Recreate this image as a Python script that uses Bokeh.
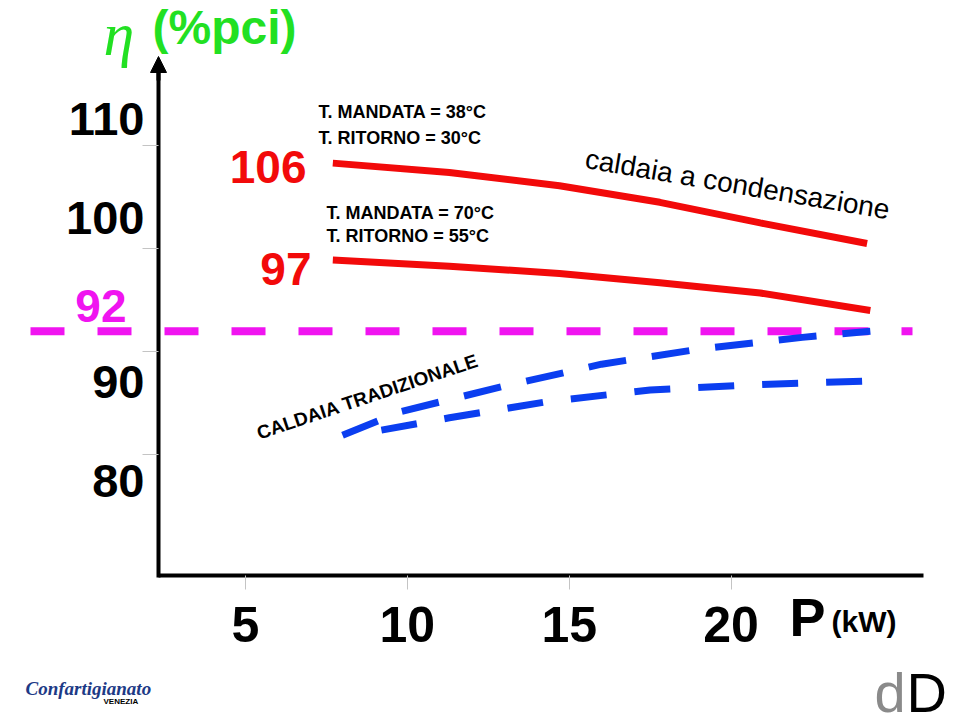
from bokeh.plotting import figure
from bokeh.models import Range1d, LinearAxis, FixedTicker, Arrow, NormalHead, ColumnDataSource
from bokeh.embed import file_html
from bokeh.resources import INLINE
from bokeh.core.properties import value

# ---------------- data ----------------
x_ticks = [5, 10, 15, 20]
y_ticks = [110, 100, 90, 80]
y_tick_labels = ["110", "100", "90", "80"]
eta_threshold = 92

P_cond_38 = [7.7, 11.3, 14.7, 17.8, 20.9, 24.2]
eta_cond_38 = [108.3, 107.4, 106.1, 104.5, 102.5, 100.5]
P_cond_70 = [7.7, 11.3, 14.7, 17.8, 20.9, 24.3]
eta_cond_70 = [98.9, 98.3, 97.6, 96.7, 95.7, 94.0]
P_trad_a = [8.0, 9.8, 12.9, 16.0, 19.1, 22.2, 24.3]
eta_trad_a = [81.9, 84.2, 86.6, 88.8, 90.3, 91.4, 92.0]
P_trad_b = [9.2, 11.3, 14.4, 17.5, 20.6, 24.5]
eta_trad_b = [82.4, 83.6, 85.2, 86.3, 86.8, 87.2]

# ---------------- layout helpers (picture pixels -> data) ----------------
W, H = 960, 726
def X(px):
    return 12.5 + (px - 487.75) / 32.38
def Y(py):
    return 95 - (py - 299.75) / 10.31

SANS = "Liberation Sans"
RED = "#f20a0a"
BLUE = "#0b3ef0"
MAG = "#f014f0"
GREEN = "#22e022"

p = figure(width=W, height=H, x_range=Range1d(X(0), X(W)), y_range=Range1d(Y(H), Y(0)),
           output_backend="svg", toolbar_location=None, min_border=0,
           x_axis_type=None, y_axis_type=None)
p.outline_line_color = None
p.xgrid.visible = False
p.ygrid.visible = False
p.background_fill_color = "white"
p.border_fill_color = "white"

# axes
xax = LinearAxis(ticker=FixedTicker(ticks=x_ticks), fixed_location=Y(575), bounds=(X(158), X(923)))
xax.axis_line_width = 4
xax.axis_line_color = "black"
xax.major_tick_line_color = "#c4c4c4"
xax.major_tick_out = 14
xax.major_tick_in = 0
xax.minor_tick_line_color = None
xax.major_label_text_font = SANS
xax.major_label_text_font_style = "bold"
xax.major_label_text_font_size = "50px"
xax.major_label_text_color = "black"
xax.major_label_standoff = 17
p.add_layout(xax, "below")

yax = LinearAxis(ticker=FixedTicker(ticks=y_ticks), fixed_location=X(158), bounds=(Y(577), Y(64)))
yax.axis_line_width = 4
yax.axis_line_color = "black"
yax.major_tick_line_color = "#c4c4c4"
yax.major_tick_out = 16
yax.major_tick_in = 0
yax.minor_tick_line_color = None
yax.major_label_text_color = None
p.add_layout(yax, "left")

p.add_layout(Arrow(end=NormalHead(size=16, fill_color="black", line_color="black"),
                   x_start=X(158), y_start=Y(80), x_end=X(158), y_end=Y(56),
                   line_width=4, line_color="black"))

# y tick labels (offset from tick marks as in the original)
ysrc = ColumnDataSource(dict(x=[X(144)] * 4, y=y_ticks, text=y_tick_labels, dy=[-27, -31, 30, 26]))
p.text(x="x", y="y", text="text", y_offset="dy", source=ysrc, text_align="right", text_baseline="middle",
       text_font=value(SANS), text_font_style="bold", text_font_size="47px", text_color="black")

# threshold line
p.segment(x0=[X(30)], y0=[eta_threshold], x1=[X(912)], y1=[eta_threshold],
          line_color=MAG, line_width=8, line_dash="34 33")

# curves
p.line(P_cond_38, eta_cond_38, line_color=RED, line_width=7)
p.line(P_cond_70, eta_cond_70, line_color=RED, line_width=7)
p.line(P_trad_a, eta_trad_a, line_color=BLUE, line_width=7, line_dash="38 26")
p.line(P_trad_b, eta_trad_b, line_color=BLUE, line_width=7, line_dash="36 28")

def txt(s, px, py, size, color="black", font=SANS, style="bold", align="left", angle=0.0):
    p.text(x=[X(px)], y=[Y(py)], text=[s], text_font=value(font), text_font_size=f"{size}px",
           text_font_style=style, text_color=color, text_align=align, text_baseline="middle",
           angle=angle, angle_units="deg")

# title
txt("\u03b7", 103, 33, 62, color=GREEN, font="Liberation Serif", style="italic")
txt("(%pci)", 152, 27, 48, color=GREEN)

# value labels
txt(str(eta_threshold), 126, 305, 46, color=MAG, align="right")
txt("106", 306, 166, 46, color=RED, align="right")
txt("97", 311, 268, 46, color=RED, align="right")

# operating conditions
txt("T.  MANDATA = 38\u00b0C", 318, 111, 18)
txt("T.  RITORNO = 30\u00b0C", 318, 137, 18)
txt("T.  MANDATA = 70\u00b0C", 326, 212, 18)
txt("T.  RITORNO = 55\u00b0C", 326, 235, 18)

# curve names
txt("caldaia a condensazione", 585, 158, 28, style="normal", angle=-9.6)
txt("CALDAIA TRADIZIONALE", 257, 433, 19, angle=18.5)

# x axis title
txt("P", 789, 616, 54)
txt("(kW)", 831, 621, 30)

# logos
txt("Confartigianato", 25, 688, 19, color="#1d3a86", font="Liberation Serif", style="bold italic")
txt("VENEZIA", 103, 701, 8)
txt("d", 874, 692, 56, color="#8a8a8a", style="normal")
txt("D", 906, 692, 56, color="black", style="normal")

open("out.html", "w").write(file_html(p, INLINE))
